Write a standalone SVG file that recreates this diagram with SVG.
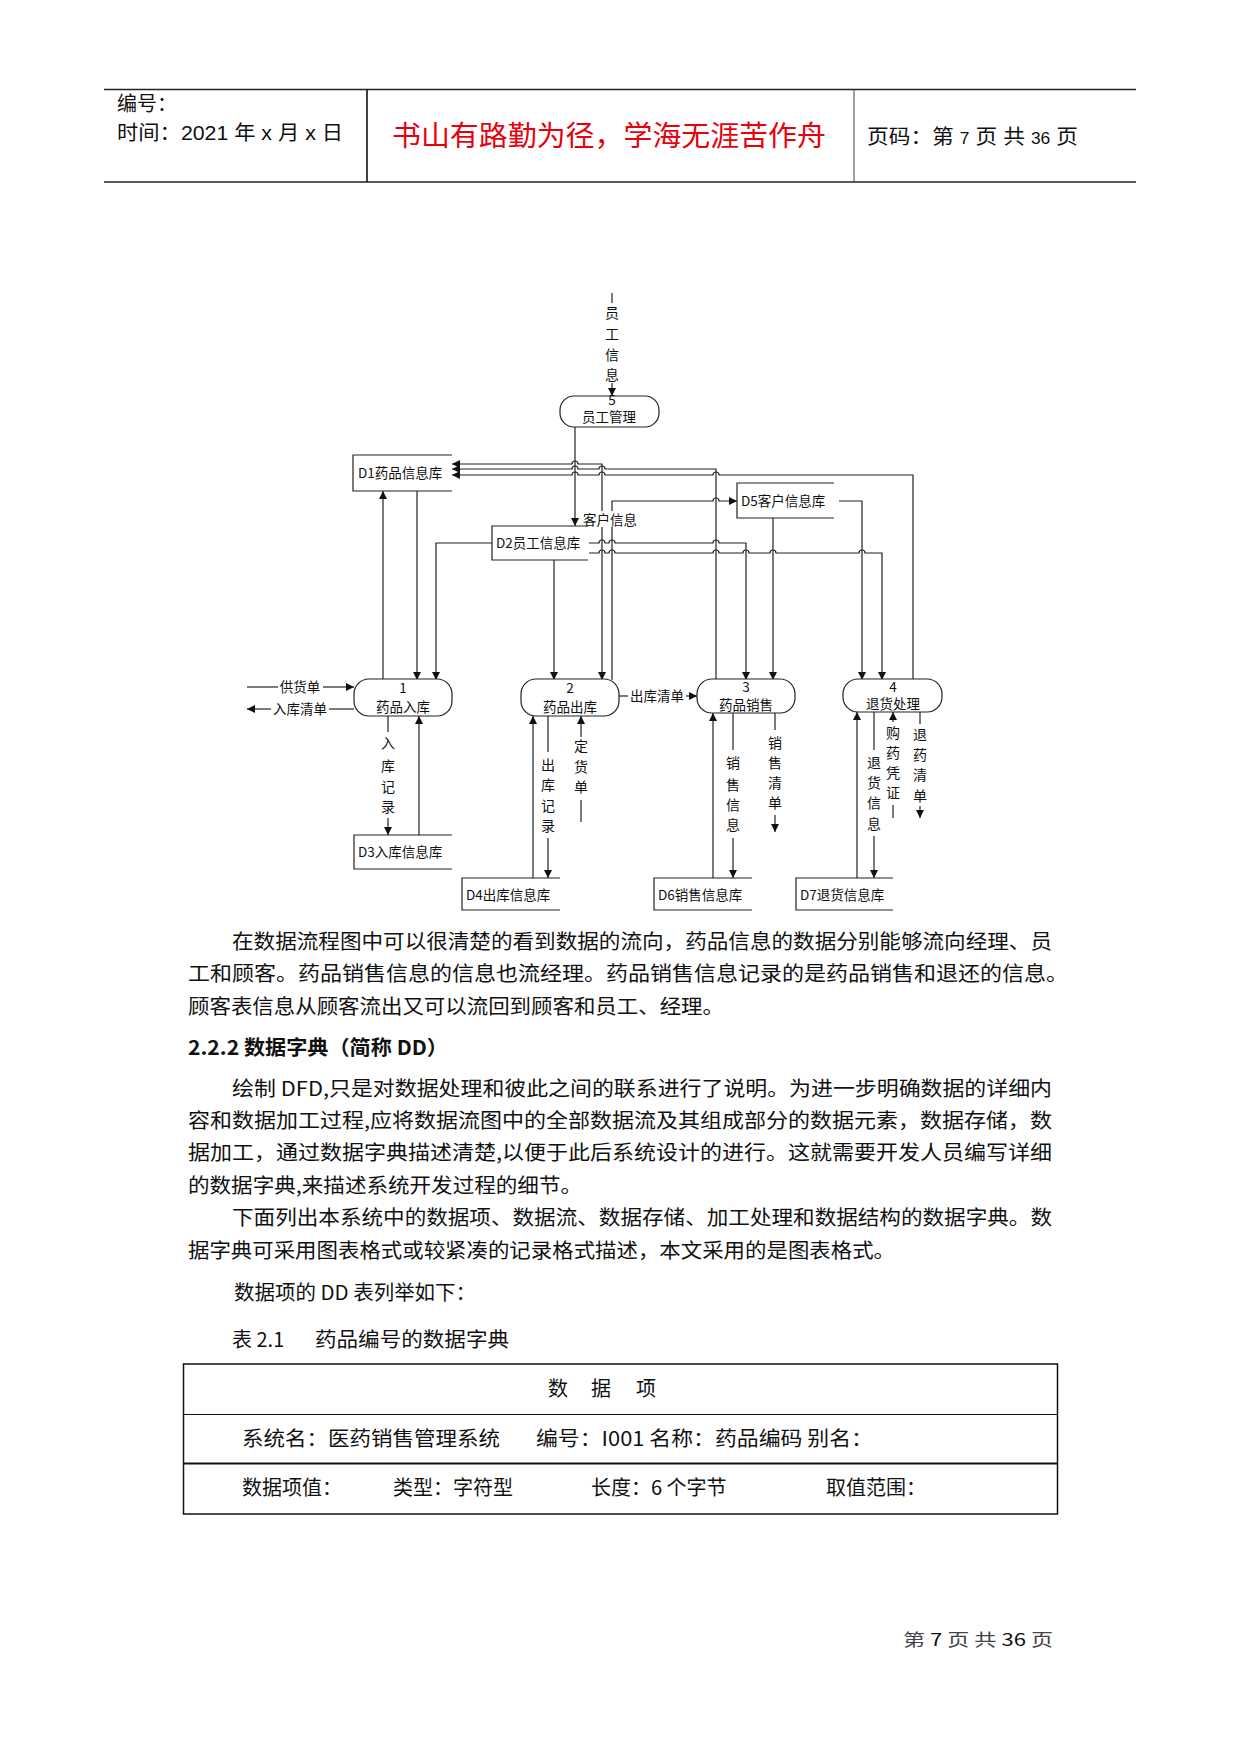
<svg xmlns="http://www.w3.org/2000/svg" width="1241" height="1754" viewBox="0 0 1241 1754">
<style>
.hd{font-family:"Liberation Sans","Noto Sans CJK SC",sans-serif;font-size:20px;fill:#111}
.dg{font-family:"Noto Sans CJK SC","Liberation Sans",sans-serif;font-size:13.5px;fill:#111}
.vt{font-family:"Noto Sans CJK SC","Liberation Sans",sans-serif;font-size:14px;fill:#111;text-anchor:middle}
.bd{font-family:"Noto Sans CJK SC","Liberation Serif",sans-serif;font-size:20px;fill:#111}
.ln{fill:none;stroke:#222;stroke-width:1.2}
.proc{fill:#fff;stroke:#222;stroke-width:1.2}
.st{fill:none;stroke:#222;stroke-width:1.2}
.mid{text-anchor:middle}
</style>
<defs>
<marker id="ar" viewBox="0 0 10 10" refX="10" refY="5" markerWidth="9" markerHeight="8" markerUnits="userSpaceOnUse" orient="auto-start-reverse">
<path d="M0,0 L10,5 L0,10 z" fill="#111"/>
</marker>
</defs>
<rect width="1241" height="1754" fill="#fff"/>

<g id="header">
<line x1="104" y1="89.5" x2="1136" y2="89.5" stroke="#222" stroke-width="1.5"/>
<line x1="104" y1="182" x2="1136" y2="182" stroke="#222" stroke-width="1.5"/>
<line x1="367" y1="89.5" x2="367" y2="182" stroke="#111" stroke-width="1.6"/>
<line x1="854" y1="89.5" x2="854" y2="182" stroke="#444" stroke-width="1"/>
<text class="hd" x="117" y="111">编号：</text>
<text class="hd" x="117" y="140" textLength="226" lengthAdjust="spacingAndGlyphs">时间：2021 年 x 月 x 日</text>
<text x="609" y="146" text-anchor="middle" font-family="Noto Sans CJK SC,sans-serif" font-size="28" fill="#e8000b" textLength="434" lengthAdjust="spacingAndGlyphs">书山有路勤为径，学海无涯苦作舟</text>
<text class="hd" x="867" y="144" textLength="211" lengthAdjust="spacingAndGlyphs">页码：第 <tspan font-size="16">7</tspan> 页  共 <tspan font-size="16">36</tspan> 页</text>
</g>

<g id="connectors">
<path class="ln" d="M612,293 V303"/>
<path class="ln" d="M612,383 V396" marker-end="url(#ar)"/>
<path class="ln" d="M575,427 V526" marker-end="url(#ar)"/>
<path class="ln" d="M602,680 V464 H578 A3,3 0 0 0 572,464 H452" marker-start="url(#ar)" marker-end="url(#ar)"/>
<path class="ln" d="M716,680 V469 H605 A3,3 0 0 0 599,469 H578 A3,3 0 0 0 572,469 H452" marker-end="url(#ar)"/>
<path class="ln" d="M913,680 V475 H719 A3,3 0 0 0 713,475 H605 A3,3 0 0 0 599,475 H578 A3,3 0 0 0 572,475 H452" marker-end="url(#ar)"/>
<path class="ln" d="M383,680 V491" marker-end="url(#ar)"/>
<path class="ln" d="M417,491 V680" marker-end="url(#ar)"/>
<path class="ln" d="M492,543 H436 V680" marker-end="url(#ar)"/>
<path class="ln" d="M554,560 V680" marker-end="url(#ar)"/>
<path class="ln" d="M612,680 V501 H713 A3,3 0 0 1 719,501 H737" marker-end="url(#ar)"/>
<path class="ln" d="M589,543 H599 A3,3 0 0 1 605,543 H609 A3,3 0 0 1 615,543 H713 A3,3 0 0 1 719,543 H746 V680" marker-end="url(#ar)"/>
<path class="ln" d="M589,553 H599 A3,3 0 0 1 605,553 H609 A3,3 0 0 1 615,553 H713 A3,3 0 0 1 719,553 H743 A3,3 0 0 1 749,553 H770 A3,3 0 0 1 776,553 H859 A3,3 0 0 1 865,553 H882 V680" marker-end="url(#ar)"/>
<path class="ln" d="M773,518 V680" marker-end="url(#ar)"/>
<path class="ln" d="M839,501 H862 V680" marker-end="url(#ar)"/>
<path class="ln" d="M247,687 H278"/>
<path class="ln" d="M323,687 H354" marker-end="url(#ar)"/>
<text class="dg mid" x="300" y="692">供货单</text>
<path class="ln" d="M354,709 H329"/>
<path class="ln" d="M271,709 H247" marker-end="url(#ar)"/>
<text class="dg mid" x="300" y="714">入库清单</text>
<path class="ln" d="M388,716 V732"/>
<path class="ln" d="M388,818 V835" marker-end="url(#ar)"/>
<text class="vt" x="388 388 388 388" y="748 771 792 812">入库记录</text>
<path class="ln" d="M419,835 V716" marker-end="url(#ar)"/>
<path class="ln" d="M533,878 V716" marker-end="url(#ar)"/>
<path class="ln" d="M548,716 V752"/>
<path class="ln" d="M548,838 V878" marker-end="url(#ar)"/>
<text class="vt" x="548 548 548 548" y="770 790 811 831">出库记录</text>
<path class="ln" d="M581,737 V716" marker-end="url(#ar)"/>
<path class="ln" d="M581,800 V822"/>
<text class="vt" x="581 581 581" y="751 772 792">定货单</text>
<path class="ln" d="M619,696 H628"/>
<path class="ln" d="M686,696 H697" marker-end="url(#ar)"/>
<text class="dg mid" x="657" y="701">出库清单</text>
<path class="ln" d="M713,878 V713" marker-end="url(#ar)"/>
<path class="ln" d="M733,713 V750"/>
<path class="ln" d="M733,838 V878" marker-end="url(#ar)"/>
<text class="vt" x="733 733 733 733" y="768 790 810 830">销售信息</text>
<path class="ln" d="M775,713 V730"/>
<path class="ln" d="M775,815 V832" marker-end="url(#ar)"/>
<text class="vt" x="775 775 775 775" y="748 768 788 808">销售清单</text>
<path class="ln" d="M857,878 V712" marker-end="url(#ar)"/>
<path class="ln" d="M874,712 V750"/>
<path class="ln" d="M874,836 V878" marker-end="url(#ar)"/>
<text class="vt" x="874 874 874 874" y="768 788 808 829">退货信息</text>
<path class="ln" d="M893,722 V712" marker-end="url(#ar)"/>
<path class="ln" d="M893,805 V818"/>
<text class="vt" x="893 893 893 893" y="738 758 778 798">购药凭证</text>
<path class="ln" d="M920,712 V724"/>
<path class="ln" d="M920,806 V818" marker-end="url(#ar)"/>
<text class="vt" x="920 920 920 920" y="740 760 780 801">退药清单</text>
<rect x="581" y="511" width="60" height="16" fill="#fff"/>
<text class="dg" x="583" y="525">客户信息</text>
<text class="vt" x="612 612 612 612" y="318 339 360 380">员工信息</text>
</g>

<g id="p5">
<rect class="proc" x="560" y="396" width="99" height="31" rx="14"/>
<text class="dg mid" x="612" y="405" font-size="12">5</text>
<text class="dg mid" x="609" y="422">员工管理</text>
</g>
<g id="p1">
<rect class="proc" x="354" y="679" width="98" height="37" rx="15"/>
<text class="dg mid" x="403" y="693">1</text>
<text class="dg mid" x="403" y="712">药品入库</text>
</g>
<g id="p2">
<rect class="proc" x="521" y="679" width="98" height="37" rx="15"/>
<text class="dg mid" x="570" y="693">2</text>
<text class="dg mid" x="570" y="712">药品出库</text>
</g>
<g id="p3">
<rect class="proc" x="697" y="679" width="98" height="34" rx="15"/>
<text class="dg mid" x="746" y="692">3</text>
<text class="dg mid" x="746" y="710">药品销售</text>
</g>
<g id="p4">
<rect class="proc" x="843" y="679" width="99" height="33" rx="15"/>
<text class="dg mid" x="893" y="692">4</text>
<text class="dg mid" x="893" y="709">退货处理</text>
</g>

<g id="d1">
<path class="st" d="M452,455 H353 V491 H452"/>
<text class="dg" x="358" y="478">D1药品信息库</text>
</g>
<g id="d2">
<path class="st" d="M588,526 H492 V560 H588"/>
<text class="dg" x="496" y="548">D2员工信息库</text>
</g>
<g id="d3">
<path class="st" d="M452,835 H354 V869 H452"/>
<text class="dg" x="358" y="857">D3入库信息库</text>
</g>
<g id="d4">
<path class="st" d="M560,878 H462 V910 H560"/>
<text class="dg" x="466" y="900">D4出库信息库</text>
</g>
<g id="d5">
<path class="st" d="M834,483 H737 V518 H834"/>
<text class="dg" x="741" y="506">D5客户信息库</text>
</g>
<g id="d6">
<path class="st" d="M752,878 H654 V910 H752"/>
<text class="dg" x="658" y="900">D6销售信息库</text>
</g>
<g id="d7">
<path class="st" d="M893,878 H796 V910 H893"/>
<text class="dg" x="800" y="900">D7退货信息库</text>
</g>

<g id="body">
<text class="bd" x="232" y="949" textLength="820" lengthAdjust="spacingAndGlyphs">在数据流程图中可以很清楚的看到数据的流向，药品信息的数据分别能够流向经理、员</text>
<text class="bd" x="188" y="981" textLength="880" lengthAdjust="spacingAndGlyphs">工和顾客。药品销售信息的信息也流经理。药品销售信息记录的是药品销售和退还的信息。</text>
<text class="bd" x="188" y="1014" textLength="536" lengthAdjust="spacingAndGlyphs">顾客表信息从顾客流出又可以流回到顾客和员工、经理。</text>
<text class="bd" x="188" y="1055" font-weight="bold" textLength="260" lengthAdjust="spacingAndGlyphs">2.2.2 数据字典（简称 DD）</text>
<text class="bd" x="232" y="1096" textLength="820" lengthAdjust="spacingAndGlyphs">绘制 DFD,只是对数据处理和彼此之间的联系进行了说明。为进一步明确数据的详细内</text>
<text class="bd" x="188" y="1128" textLength="864" lengthAdjust="spacingAndGlyphs">容和数据加工过程,应将数据流图中的全部数据流及其组成部分的数据元素，数据存储，数</text>
<text class="bd" x="188" y="1160" textLength="864" lengthAdjust="spacingAndGlyphs">据加工，通过数据字典描述清楚,以便于此后系统设计的进行。这就需要开发人员编写详细</text>
<text class="bd" x="188" y="1193" textLength="394" lengthAdjust="spacingAndGlyphs">的数据字典,来描述系统开发过程的细节。</text>
<text class="bd" x="232" y="1225" textLength="820" lengthAdjust="spacingAndGlyphs">下面列出本系统中的数据项、数据流、数据存储、加工处理和数据结构的数据字典。数</text>
<text class="bd" x="188" y="1258" textLength="707" lengthAdjust="spacingAndGlyphs">据字典可采用图表格式或较紧凑的记录格式描述，本文采用的是图表格式。</text>
<text class="bd" x="234" y="1300" textLength="242" lengthAdjust="spacingAndGlyphs">数据项的 DD 表列举如下：</text>
<text class="bd" x="232" y="1347">表 2.1</text>
<text class="bd" x="315" y="1347" textLength="194" lengthAdjust="spacingAndGlyphs">药品编号的数据字典</text>
</g>

<g id="table">
<rect x="183.5" y="1364" width="874" height="150" fill="none" stroke="#111" stroke-width="1.5"/>
<line x1="183.5" y1="1414.5" x2="1057.5" y2="1414.5" stroke="#111" stroke-width="1.2"/>
<line x1="183.5" y1="1463.5" x2="1057.5" y2="1463.5" stroke="#111" stroke-width="2.2"/>
<text class="bd mid" x="558" y="1396">数</text>
<text class="bd mid" x="601" y="1396">据</text>
<text class="bd mid" x="646" y="1396">项</text>
<text class="bd" x="242" y="1446" textLength="258" lengthAdjust="spacingAndGlyphs">系统名：医药销售管理系统</text>
<text class="bd" x="536" y="1446" textLength="337" lengthAdjust="spacingAndGlyphs">编号：I001 名称：药品编码 别名：</text>
<text class="bd" x="242" y="1495">数据项值：</text>
<text class="bd" x="393" y="1495">类型：字符型</text>
<text class="bd" x="591" y="1495">长度：6 个字节</text>
<text class="bd" x="826" y="1495">取值范围：</text>
</g>

<g id="footer">
<text x="903" y="1646" font-family="Noto Sans CJK SC,sans-serif" font-size="17" fill="#444" textLength="150" lengthAdjust="spacingAndGlyphs">第 <tspan fill="#111">7</tspan> 页 共 <tspan fill="#111">36</tspan> 页</text>
</g>
</svg>
